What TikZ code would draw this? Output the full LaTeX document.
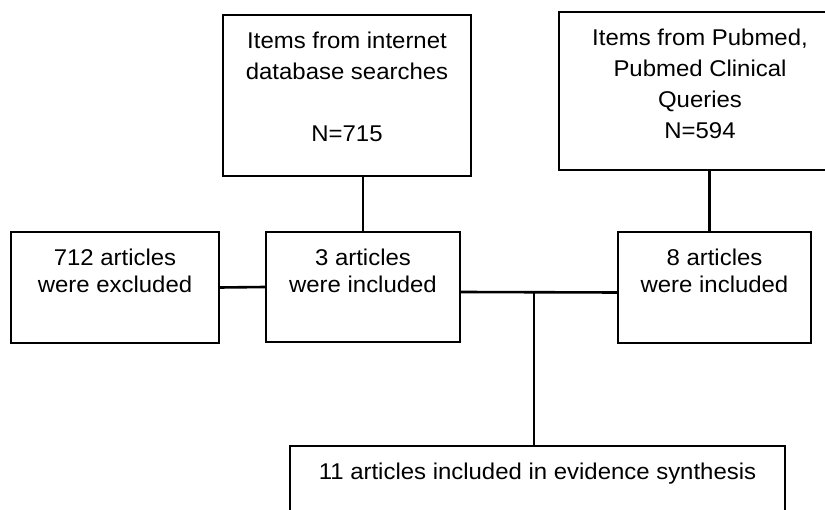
\documentclass[tikz,border=0pt]{standalone}
\usepackage{fontspec}
\setmainfont[FakeStretch=1.05]{Liberation Sans}
\newcommand{\boxtxt}[3]{\parbox[c][#2][t]{#1}{\centering\rule{0pt}{34pt}#3}}
\tikzset{
  flowbox/.style={draw,line width=2pt,inner sep=0pt},
  srcbox/.style={flowbox,font=\fontsize{22.8}{31}\selectfont},
  midbox/.style={flowbox,font=\fontsize{22.8}{27}\selectfont},
  link/.style={line width=2.6pt},
}
\begin{document}
\begin{tikzpicture}[x=1pt,y=-1pt,line cap=rect]
  \clip (0,0) rectangle (825,510);
  \node[srcbox] (srcweb) at (347,95.5)
    {\boxtxt{248pt}{161pt}{Items from internet\\database searches\\[31pt]N=715}};
  \node[srcbox] (srcpub) at (700,91)
    {\boxtxt{282pt}{158pt}{Items from Pubmed,\\Pubmed Clinical\\Queries\\N=594}};
  \node[midbox] (excl) at (115,287.5)
    {\boxtxt{208pt}{111pt}{712 articles\\were excluded}};
  \node[midbox] (incweb) at (363,287)
    {\boxtxt{194pt}{110pt}{3 articles\\were included}};
  \node[midbox] (incpub) at (714.5,287.5)
    {\boxtxt{193pt}{111pt}{8 articles\\were included}};
  \node[midbox,anchor=north] (final) at (537.5,445)
    {\boxtxt{495pt}{100pt}{11 articles included in evidence synthesis}};
  \coordinate (join) at (534,292);
  \draw[link] (incweb.north) -- (incweb.north |- srcweb.south);
  \draw[link] ([xshift=-5pt]incpub.north) -- ([xshift=-5pt]incpub.north |- srcpub.south);
  \draw[link] (excl.east) -- (incweb.west);
  \draw[link] ([yshift=-5pt]incweb.east) -- ([yshift=-5pt]incpub.west);
  \draw[link] (join) -- (join |- final.north);
\end{tikzpicture}
\end{document}
